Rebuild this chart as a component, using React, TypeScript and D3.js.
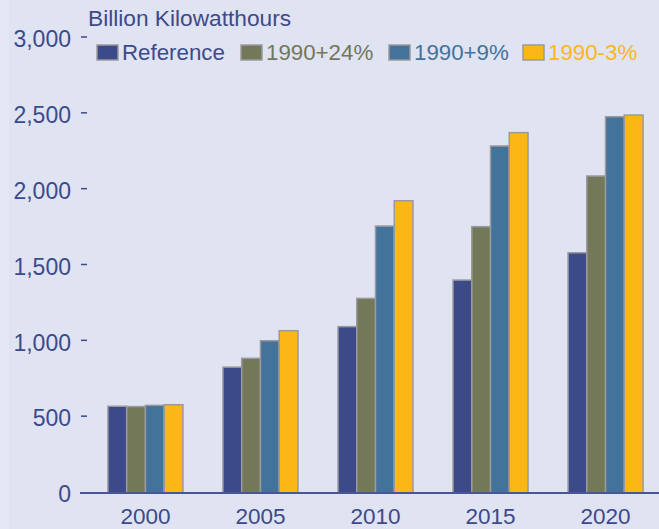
import * as d3 from "d3";

const WIDTH = 659;
const HEIGHT = 529;
const MARGIN = { top: 38, right: 0, bottom: 36, left: 80 };

const YEARS = ["2000", "2005", "2010", "2015", "2020"];
const SERIES = ["Reference", "1990+24%", "1990+9%", "1990-3%"];
const REFERENCE = [572, 830, 1097, 1404, 1584];
const PLUS_24 = [570, 888, 1283, 1756, 2090];
const PLUS_9 = [578, 1004, 1760, 2288, 2481];
const MINUS_3 = [582, 1070, 1927, 2376, 2492];
const Y_TICKS = [0, 500, 1000, 1500, 2000, 2500, 3000];

const COLORS = ["#3c4a8a", "#727858", "#43729b", "#fdb715"];
const BG = "#e0e3f2";
const TEXT = "#3c4a8a";
const FONT = "'Liberation Sans', Arial, sans-serif";

const values = [REFERENCE, PLUS_24, PLUS_9, MINUS_3];

export default function App() {
  const baseY = HEIGHT - MARGIN.bottom;

  const yScale = d3.scaleLinear().domain([0, 3000]).range([baseY, MARGIN.top]);

  const xScale = d3
    .scaleBand()
    .domain(YEARS)
    .range([MARGIN.left, 671])
    .paddingInner(0.348)
    .paddingOuter(0.243);

  const subScale = d3
    .scaleBand()
    .domain(SERIES)
    .range([0, xScale.bandwidth()]);

  const color = d3.scaleOrdinal<string>().domain(SERIES).range(COLORS);

  const legendX = [97, 241, 389, 523];

  return (
    <svg
      width={WIDTH}
      height={HEIGHT}
      style={{ position: "absolute", left: 0, top: 0 }}
      fontFamily={FONT}
    >
      <rect width={WIDTH} height={HEIGHT} fill={BG} />
      <rect width={9} height={HEIGHT} fill="#e5e7f4" />

      {/* y ticks */}
      {Y_TICKS.map((t) => (
        <g key={t}>
          <text
            x={71}
            y={yScale(t)}
            dy="0.4em"
            textAnchor="end"
            fontSize={23}
            fill={TEXT}
          >
            {d3.format(",")(t)}
          </text>
          {t > 0 && (
            <line
              x1={81}
              x2={87}
              y1={yScale(t) - 1}
              y2={yScale(t) - 1}
              stroke={TEXT}
              strokeWidth={1.5}
            />
          )}
        </g>
      ))}

      {/* bars */}
      {YEARS.map((year, i) => (
        <g key={year} transform={`translate(${xScale(year)},0)`}>
          {SERIES.map((s, j) => (
            <rect
              key={s}
              x={subScale(s)}
              y={yScale(values[j][i])}
              width={subScale.bandwidth()}
              height={baseY - yScale(values[j][i])}
              fill={color(s)}
              stroke="#9a9a9e"
              strokeWidth={1.5}
            />
          ))}
          <text
            x={xScale.bandwidth() / 2}
            y={524}
            textAnchor="middle"
            fontSize={22.5}
            fill={TEXT}
          >
            {year}
          </text>
        </g>
      ))}

      {/* x axis */}
      <line
        x1={80}
        x2={WIDTH}
        y1={baseY}
        y2={baseY}
        stroke="#4a5595"
        strokeWidth={2}
      />

      {/* title */}
      <text x={88} y={26} fontSize={22.7} fill={TEXT}>
        Billion Kilowatthours
      </text>

      {/* legend */}
      {SERIES.map((s, i) => (
        <g key={s} transform={`translate(${legendX[i]},0)`}>
          <rect
            x={0}
            y={45}
            width={21}
            height={15}
            fill={color(s)}
            stroke="#9a9a9e"
            strokeWidth={1.5}
          />
          <text x={25} y={59.5} fontSize={22.3} fill={color(s)}>
            {s}
          </text>
        </g>
      ))}
    </svg>
  );
}
